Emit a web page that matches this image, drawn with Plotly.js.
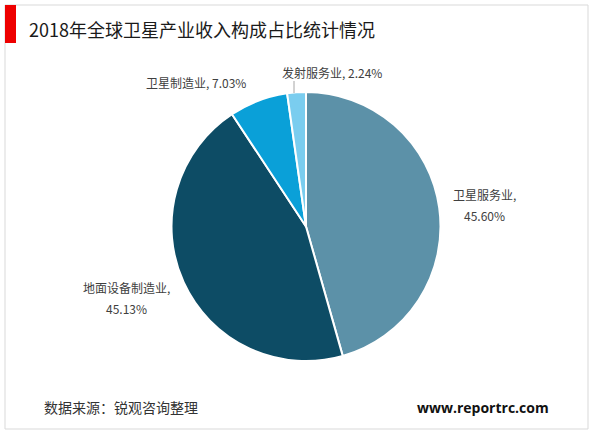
<!DOCTYPE html>
<html>
<head>
<meta charset="utf-8">
<script src="https://cdn.plot.ly/plotly-3.0.1.min.js"></script>
<style>
html,body{margin:0;padding:0;background:#fff;}
#chart{width:600px;height:433px;}
</style>
</head>
<body>
<div id="chart"></div>
<script>
const titleText = "2018年全球卫星产业收入构成占比统计情况";
const categories = ["卫星服务业", "地面设备制造业", "卫星制造业", "发射服务业"];
const values = [45.60, 45.13, 7.03, 2.24];
const colors = ["#5c91a8", "#0d4c65", "#0aa0d8", "#7acdef"];
const sourceText = "数据来源：锐观咨询整理";
const siteText = "www.reportrc.com";

const W = 600, H = 433;
const px = x => x / W;
const py = y => 1 - y / H;

const cjk = '"Noto Sans CJK SC", "Microsoft YaHei", sans-serif';

// pie geometry in pixels
const cx = 306, cy = 226.5, r = 134.5;

const trace = {
  type: 'pie',
  labels: categories,
  values: values,
  marker: {colors: colors, line: {color: '#ffffff', width: 2}},
  sort: false,
  direction: 'clockwise',
  rotation: 0,
  textinfo: 'none',
  hoverinfo: 'label+percent',
  showlegend: false,
  domain: {x: [px(cx - r), px(cx + r)], y: [py(cy + r), py(cy - r)]}
};

const fmt = v => v.toFixed(2) + '%';
const labelFont = {family: cjk, size: 12, color: '#404040'};

const annotations = [
  {x: px(484), y: py(194), text: categories[0] + ','},
  {x: px(484), y: py(215), text: fmt(values[0])},
  {x: px(126), y: py(287), text: categories[1] + ','},
  {x: px(126), y: py(308), text: fmt(values[1])},
  {x: px(196), y: py(83), text: categories[2] + ', ' + fmt(values[2])},
  {x: px(332), y: py(72), text: categories[3] + ', ' + fmt(values[3])}
].map(a => Object.assign({
  xref: 'paper', yref: 'paper', showarrow: false,
  xanchor: 'center', yanchor: 'middle', align: 'center',
  font: labelFont
}, a));

annotations.push({
  xref: 'paper', yref: 'paper', x: px(27), y: py(29), xanchor: 'left', yanchor: 'middle',
  showarrow: false, text: titleText, font: {family: cjk, size: 18, color: '#1a1a1a'}
});
annotations.push({
  xref: 'paper', yref: 'paper', x: px(42), y: py(407), xanchor: 'left', yanchor: 'middle',
  showarrow: false, text: sourceText, font: {family: cjk, size: 14, color: '#333333'}
});
annotations.push({
  xref: 'paper', yref: 'paper', x: px(551), y: py(407), xanchor: 'right', yanchor: 'middle',
  showarrow: false, text: '<b>' + siteText + '</b>', font: {family: '"Open Sans", "DejaVu Sans", sans-serif', size: 14, color: '#111111'}
});

const shapes = [
  {type: 'rect', xref: 'paper', yref: 'paper', x0: px(5), x1: px(588), y0: py(429), y1: py(5),
   line: {color: '#d9d9d9', width: 1}, fillcolor: 'rgba(0,0,0,0)'},
  {type: 'rect', xref: 'paper', yref: 'paper', x0: px(5), x1: px(16), y0: py(43), y1: py(5),
   line: {width: 0}, fillcolor: '#ee0000'},
  {type: 'line', xref: 'paper', yref: 'paper', x0: px(294), x1: px(294), y0: py(81), y1: py(93),
   line: {color: '#a6a6a6', width: 1}}
];

const layout = {
  width: W, height: H,
  margin: {l: 0, r: 0, t: 0, b: 0},
  paper_bgcolor: '#ffffff',
  plot_bgcolor: '#ffffff',
  annotations: annotations,
  shapes: shapes,
  showlegend: false
};

Plotly.newPlot('chart', [trace], layout, {displayModeBar: false, staticPlot: true});
</script>
</body>
</html>
